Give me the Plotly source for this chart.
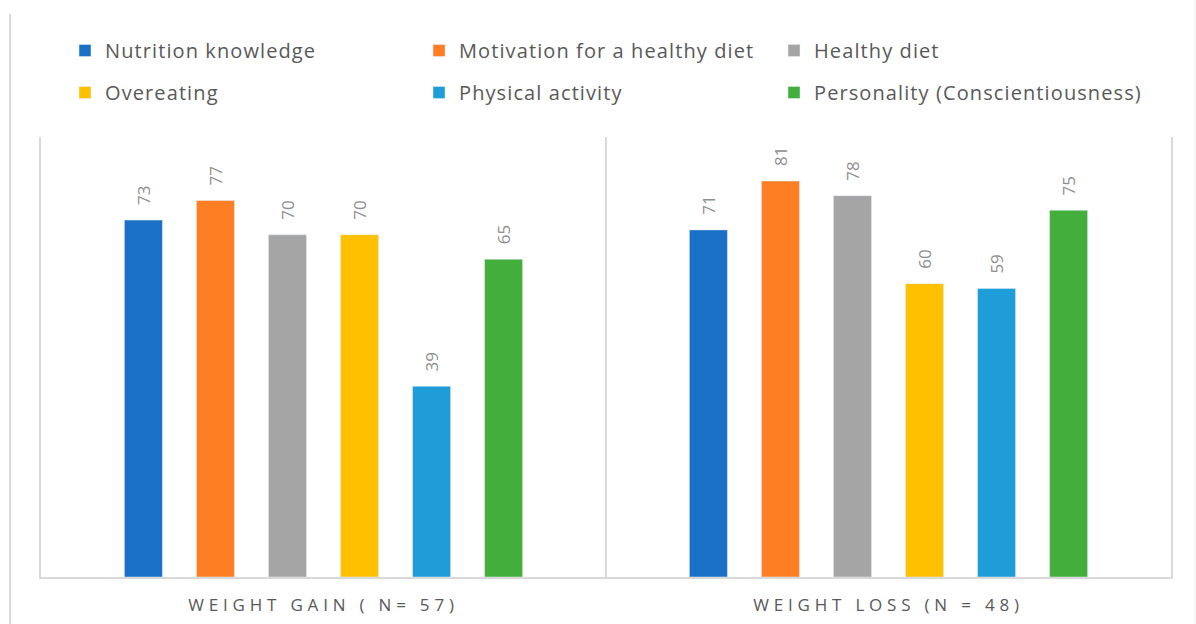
import plotly.graph_objects as go

categories = ["WEIGHT GAIN ( N= 57)", "WEIGHT LOSS (N = 48)"]
series_names = ["Nutrition knowledge", "Motivation for a healthy diet", "Healthy diet",
                "Overeating", "Physical activity", "Personality (Conscientiousness)"]
nutrition = [73, 71]
motivation = [77, 81]
healthy_diet = [70, 78]
overeating = [70, 60]
physical = [39, 59]
personality = [65, 75]
series_values = [nutrition, motivation, healthy_diet, overeating, physical, personality]
colors = ["#1A70C6", "#FD7E23", "#A5A5A5", "#FFC000", "#1E9DD8", "#43AE3B"]
legend_ids = ["legend", "legend2", "legend3", "legend", "legend2", "legend3"]

W, H = 1196, 624
ML, MR, MT, MB = 41, 25, 137, 47
BARGAP, BARGROUPGAP = 0.235, 0.472
plot_w = W - ML - MR
plot_h = H - MT - MB
cat_w = plot_w / len(categories)
slot = cat_w * (1 - BARGAP) / len(series_names)

fig = go.Figure()
for i, (name, vals) in enumerate(zip(series_names, series_values)):
    fig.add_trace(go.Bar(
        x=categories, y=vals, name=name, marker_color=colors[i],
        legend=legend_ids[i], legendgroup=name, hoverinfo="skip",
    ))
    for c, v in zip(categories, vals):
        fig.add_annotation(
            x=c, y=v, text=str(v), showarrow=False, textangle=-90,
            xanchor="center", yanchor="bottom",
            xshift=(i - (len(series_names) - 1) / 2) * slot, yshift=13,
            font=dict(family="Open Sans", size=17, color="#8E8E8E"),
        )

line_col = "#D9D9D9"
legend_common = dict(
    orientation="v", yanchor="top", y=1 + (MT - 31) / plot_h, xanchor="left",
    font=dict(family="Open Sans", size=20, color="#595959"),
    tracegroupgap=13, bgcolor="rgba(0,0,0,0)", itemclick=False,
)
fig.update_layout(
    width=W, height=H,
    margin=dict(l=ML, r=MR, t=MT, b=MB, autoexpand=False),
    paper_bgcolor="white", plot_bgcolor="white",
    barmode="group", bargap=BARGAP, bargroupgap=BARGROUPGAP,
    showlegend=True,
    legend=dict(x=(65 - ML) / plot_w, **legend_common),
    legend2=dict(x=(419 - ML) / plot_w, **legend_common),
    legend3=dict(x=(774 - ML) / plot_w, **legend_common),
    xaxis=dict(
        showline=True, linecolor=line_col, linewidth=2,
        showgrid=True, gridcolor=line_col, gridwidth=2, tickson="boundaries",
        ticks="", ticklabelstandoff=12,
        tickfont=dict(family="Open Sans", size=17, color="#595959"),
    ),
    yaxis=dict(
        range=[0, 90], showgrid=False, zeroline=False, showticklabels=False,
        showline=True, mirror=True, linecolor=line_col, linewidth=2, ticks="",
    ),
    shapes=[
        dict(type="line", xref="paper", yref="paper",
             x0=(10 - ML) / plot_w, x1=(10 - ML) / plot_w,
             y0=1 + (MT - 14) / plot_h, y1=-MB / plot_h,
             line=dict(color=line_col, width=2)),
        dict(type="line", xref="paper", yref="paper",
             x0=(1195 - ML) / plot_w, x1=(1195 - ML) / plot_w,
             y0=1 + MT / plot_h, y1=-MB / plot_h,
             line=dict(color="#EDEDED", width=1)),
    ],
)

post = """
document.body.style.margin = '0';
document.body.style.padding = '0';
var st = document.createElement('style');
st.textContent = '.legendtext, .legend2text, .legend3text{letter-spacing:1.1px !important;}' +
  ' .xtick text{letter-spacing:4.8px !important;}' +
  ' .scrollbox{clip-path:none !important;}' +
  ' g.legend, g.legend2, g.legend3{clip-path:none !important;}';
document.head.appendChild(st);
"""
fig.write_html("out.html", post_script=post, config={"displayModeBar": False})
